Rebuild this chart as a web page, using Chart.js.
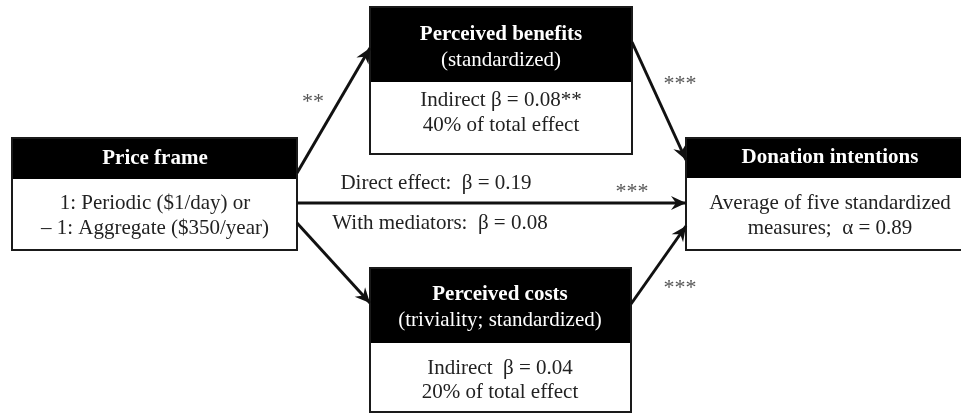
<!DOCTYPE html>
<html>
<head>
<meta charset="utf-8">
<script src="https://cdn.jsdelivr.net/npm/chart.js@4/dist/chart.umd.min.js"></script>
<style>
  html, body { margin: 0; padding: 0; background: #fff; }
  canvas { display: block; }
</style>
</head>
<body>
<canvas id="c" width="961" height="415"></canvas>
<script>
// Mediation model values
const directBeta = 0.19;
const mediatedBeta = 0.08;
const indirectBetas = [0.08, 0.04];      // benefits, costs
const indirectShares = [40, 20];         // % of total effect
const indirectStars = ['**', ''];
const cronbachAlpha = 0.89;
const pathStars = ['**', '***', '***', '***']; // frame→benefits, benefits→DV, direct, costs→DV

// Diagram geometry (canvas units)
const layout = {
  boxes: {
    frame:    { x0: 12,  x1: 297, top: 138, split: 179, bottom: 250, cx: 155 },
    benefits: { x0: 370, x1: 632, top: 7,   split: 82,  bottom: 154, cx: 501 },
    costs:    { x0: 370, x1: 631, top: 268, split: 343, bottom: 412, cx: 500 },
    outcome:  { x0: 686, x1: 975, top: 138, split: 178, bottom: 250, cx: 830 }
  },
  arrows: [
    [[297, 173], [370, 48]],
    [[632, 42],  [686, 160]],
    [[297, 203], [686, 203]],
    [[297, 223], [370, 303]],
    [[631, 304], [686, 226]]
  ],
  starPos: [[313, 102], [680, 84], [632, 192], [680, 288]]
};

const font = '"Liberation Serif", "Times New Roman", serif';
const fmt = v => v.toFixed(2);

const boxText = {
  frame: {
    head: ['Price frame'],
    headY: [159],
    body: ['1: Periodic ($1/day) or', '\u2013 1: Aggregate ($350/year)'],
    bodyY: [203, 228]
  },
  benefits: {
    head: ['Perceived benefits', '(standardized)'],
    headBold: [true, false],
    headY: [35, 60],
    body: ['Indirect \u03b2 = ' + fmt(indirectBetas[0]) + indirectStars[0], indirectShares[0] + '% of total effect'],
    bodyY: [100, 125]
  },
  costs: {
    head: ['Perceived costs', '(triviality; standardized)'],
    headBold: [true, false],
    headY: [295, 320],
    body: ['Indirect  \u03b2 = ' + fmt(indirectBetas[1]) + indirectStars[1], indirectShares[1] + '% of total effect'],
    bodyY: [368, 392]
  },
  outcome: {
    head: ['Donation intentions'],
    headY: [158],
    body: ['Average of five standardized', 'measures;  \u03b1 = ' + fmt(cronbachAlpha)],
    bodyY: [203, 228]
  }
};

const pathTexts = [
  { text: 'Direct effect:  \u03b2 = ' + fmt(directBeta), x: 436, y: 183 },
  { text: 'With mediators:  \u03b2 = ' + fmt(mediatedBeta), x: 440, y: 223 }
];

const arrowSets = layout.arrows.map(seg => ({
  type: 'line',
  data: seg.map(p => ({ x: p[0], y: p[1] })),
  borderColor: '#111',
  borderWidth: 3,
  pointRadius: 0,
  showLine: true,
  fill: false,
  tension: 0,
  borderCapStyle: 'butt'
}));

const diagram = {
  id: 'diagram',
  beforeDatasetsDraw(chart) {
    const { ctx, scales: { x, y } } = chart;
    ctx.save();
    Object.keys(layout.boxes).forEach(k => {
      const b = layout.boxes[k];
      const X0 = x.getPixelForValue(b.x0), X1 = x.getPixelForValue(b.x1);
      const T = y.getPixelForValue(b.top), S = y.getPixelForValue(b.split), B = y.getPixelForValue(b.bottom);
      ctx.fillStyle = '#000';
      ctx.fillRect(X0, T, X1 - X0, S - T);
      ctx.fillStyle = '#fff';
      ctx.fillRect(X0, S, X1 - X0, B - S);
      ctx.strokeStyle = '#1a1a1a';
      ctx.lineWidth = 2;
      ctx.strokeRect(X0, T, X1 - X0, B - T);
    });
    ctx.restore();
  },
  afterDatasetsDraw(chart) {
    const { ctx, scales: { x, y } } = chart;
    ctx.save();
    // arrowheads
    layout.arrows.forEach(seg => {
      const ax = x.getPixelForValue(seg[0][0]), ay = y.getPixelForValue(seg[0][1]);
      const bx = x.getPixelForValue(seg[1][0]), by = y.getPixelForValue(seg[1][1]);
      const ang = Math.atan2(by - ay, bx - ax);
      const L = 15, W = 7, N = 10;
      ctx.save();
      ctx.translate(bx, by);
      ctx.rotate(ang);
      ctx.beginPath();
      ctx.moveTo(0, 0);
      ctx.lineTo(-L, -W);
      ctx.lineTo(-N, 0);
      ctx.lineTo(-L, W);
      ctx.closePath();
      ctx.fillStyle = '#111';
      ctx.fill();
      ctx.restore();
    });
    // box texts
    ctx.textAlign = 'center';
    ctx.textBaseline = 'middle';
    Object.keys(boxText).forEach(k => {
      const t = boxText[k], b = layout.boxes[k];
      const cx = x.getPixelForValue(b.cx);
      ctx.fillStyle = '#fff';
      t.head.forEach((s, i) => {
        const bold = t.headBold ? t.headBold[i] : true;
        ctx.font = (bold ? 'bold ' : '') + '21px ' + font;
        ctx.fillText(s, cx, y.getPixelForValue(t.headY[i]));
      });
      ctx.fillStyle = '#222';
      ctx.font = '21px ' + font;
      t.body.forEach((s, i) => ctx.fillText(s, cx, y.getPixelForValue(t.bodyY[i])));
    });
    // path labels
    ctx.fillStyle = '#222';
    ctx.font = '21px ' + font;
    pathTexts.forEach(p => ctx.fillText(p.text, x.getPixelForValue(p.x), y.getPixelForValue(p.y)));
    ctx.fillStyle = '#555';
    ctx.font = '22px ' + font;
    pathStars.forEach((s, i) => {
      ctx.fillText(s, x.getPixelForValue(layout.starPos[i][0]), y.getPixelForValue(layout.starPos[i][1]));
    });
    ctx.restore();
  }
};

new Chart(document.getElementById('c'), {
  type: 'scatter',
  data: { datasets: arrowSets },
  options: {
    responsive: false,
    devicePixelRatio: 1,
    animation: false,
    layout: { padding: 0 },
    plugins: { legend: { display: false }, tooltip: { enabled: false } },
    scales: {
      x: { type: 'linear', min: 0, max: 961, display: false },
      y: { type: 'linear', min: 0, max: 415, reverse: true, display: false }
    }
  },
  plugins: [diagram]
});
</script>
</body>
</html>
